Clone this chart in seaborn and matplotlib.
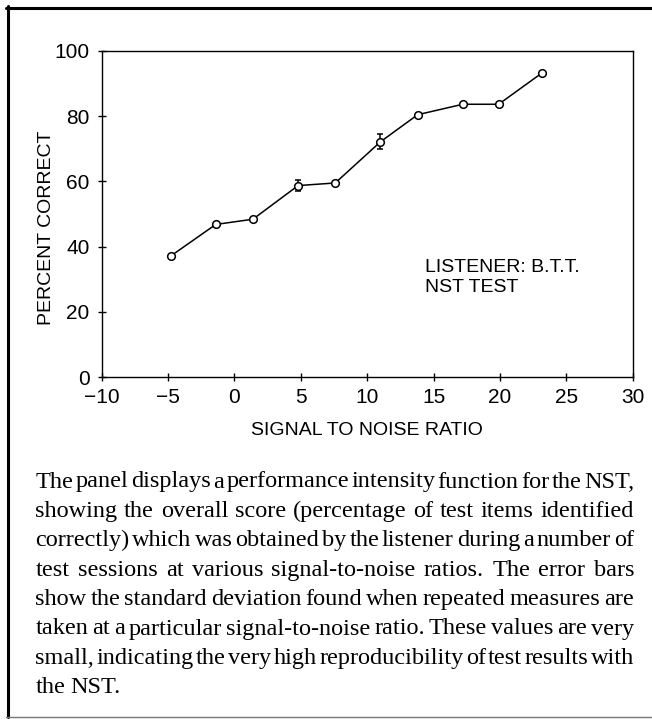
import matplotlib
matplotlib.use('Agg')
import matplotlib.pyplot as plt
import seaborn as sns
import pandas as pd
from matplotlib.lines import Line2D

# values
snr = [-4.8, -1.4, 1.4, 4.8, 7.6, 11.0, 13.8, 17.2, 19.9, 23.2]
pct_correct = [37.1, 46.8, 48.4, 58.7, 59.5, 72.1, 80.4, 83.6, 83.6, 93.3]

# points with standard deviation bars
sd_snr = [4.8, 11.0]
sd_pct = [58.7, 72.1]
sd_val = [1.7, 2.3]

x_ticks = [-10, -5, 0, 5, 10, 15, 20, 25, 30]
y_ticks = [0, 20, 40, 60, 80, 100]

caption_lines = [
    "The panel displays a performance intensity function for the NST,",
    "showing the overall score (percentage of test items identified",
    "correctly) which was obtained by the listener during a number of",
    "test sessions at various signal-to-noise ratios. The error bars",
    "show the standard deviation found when repeated measures are",
    "taken at a particular signal-to-noise ratio. These values are very",
    "small, indicating the very high reproducibility of test results with",
    "the NST.",
]

sns.set_theme(style='ticks', rc={
    'axes.edgecolor': 'black', 'axes.labelcolor': 'black',
    'xtick.color': 'black', 'ytick.color': 'black', 'text.color': 'black',
})
plt.rcParams['font.family'] = ['Liberation Sans', 'DejaVu Sans']

W, H = 652, 719
fig = plt.figure(figsize=(W / 100, H / 100), dpi=100)
fig.patch.set_facecolor('white')


def fx(px):
    return px / W


def fy(py):
    return 1 - py / H


ax_l, ax_r, ax_t, ax_b = 101.5, 632.8, 50.7, 377.3
ax = fig.add_axes([fx(ax_l), fy(ax_b), fx(ax_r - ax_l), (ax_b - ax_t) / H])

df = pd.DataFrame({'snr': snr, 'pct': pct_correct})
ax.errorbar(sd_snr, sd_pct, yerr=sd_val, fmt='none', ecolor='black',
            elinewidth=1.1, capsize=2, capthick=1.1, zorder=2)
sns.lineplot(data=df, x='snr', y='pct', ax=ax, color='black', linewidth=1.1,
             marker='o', markersize=5.5, markerfacecolor='white',
             markeredgecolor='black', markeredgewidth=1.1, zorder=3)

ax.set_xlim(-10, 30)
ax.set_ylim(0, 100)
ax.set_xticks(x_ticks)
ax.set_yticks(y_ticks)
ax.tick_params(direction='inout', length=6, width=1.0, labelsize=15, pad=4.5)
ax.tick_params(axis='y', pad=5.5)
for sp in ax.spines.values():
    sp.set_linewidth(1.0)
    sp.set_color('black')

ax.set_xlabel('SIGNAL TO NOISE RATIO', fontsize=14)
ax.set_ylabel('PERCENT CORRECT', fontsize=14)
ax.xaxis.set_label_coords(0.5, -0.138)
ax.yaxis.set_label_coords(-0.088, 0.457)

ax.text(14.36, 32.3, 'LISTENER: B.T.T.', fontsize=14, va='baseline')
ax.text(14.36, 26.2, 'NST TEST', fontsize=14, va='baseline')

# outer frame of the panel
fig.add_artist(Line2D([fx(7.5), fx(7.5)], [fy(6), fy(717)], color='black', lw=2.2))
fig.add_artist(Line2D([fx(6), fx(652)], [fy(7.5), fy(7.5)], color='black', lw=2.2))
fig.add_artist(Line2D([fx(6), fx(652)], [fy(717), fy(717)], color='#777777', lw=1.0))

# justified caption in a serif face
renderer = fig.canvas.get_renderer()
cap_x0, cap_x1 = 35.3, 634.0
cap_w = cap_x1 - cap_x0
serif = ['Liberation Serif', 'DejaVu Serif']


def word_widths(words, size):
    out = []
    for w in words:
        t = fig.text(0, 0, w, fontsize=size, family=serif)
        out.append(t.get_window_extent(renderer).width)
        t.remove()
    return out


base = 10
sizes = []
for line in caption_lines[:-1]:
    words = line.split()
    tot = sum(word_widths(words, base))
    sizes.append(cap_w / (tot / base + (len(words) - 1) * 0.10 * 100 / 72))
cap_size = min(min(sizes), 18)

base_y = 487.5
step = 29.4
for i, line in enumerate(caption_lines):
    words = line.split()
    widths = word_widths(words, cap_size)
    y = base_y + i * step
    if i == len(caption_lines) - 1:
        gap = 0.2 * cap_size * 100 / 72
    else:
        gap = (cap_w - sum(widths)) / (len(words) - 1)
    x = cap_x0
    for w, wd in zip(words, widths):
        fig.text(fx(x), fy(y), w, fontsize=cap_size, family=serif, va='baseline')
        x += wd + gap

fig.savefig('out.png', dpi=100, facecolor='white')
